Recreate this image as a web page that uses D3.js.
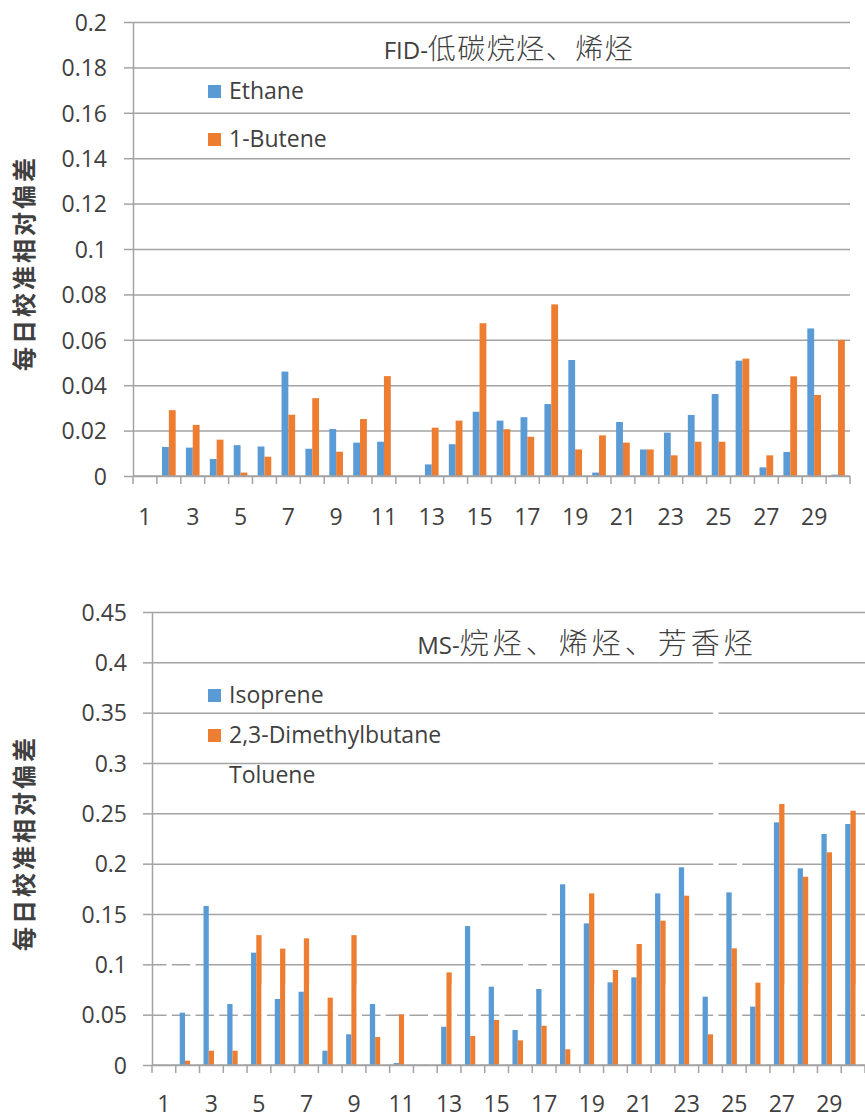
<!DOCTYPE html>
<html>
<head>
<meta charset="utf-8">
<script src="https://cdn.jsdelivr.net/npm/d3@7"></script>
<style>
  body { margin: 0; background: #fff; }
  svg text { font-family: "Open Sans", "Noto Sans CJK SC", sans-serif; fill: #404040; }
</style>
</head>
<body>
<div id="graph"></div>
<script>
// days on the x axis, only odd ones get a label
var days = [1, 2, 3, 4, 5, 6, 7, 8, 9, 10, 11, 12, 13, 14, 15, 16, 17, 18, 19, 20, 21, 22, 23, 24, 25, 26, 27, 28, 29, 30];
var dayLabels = [1, 3, 5, 7, 9, 11, 13, 15, 17, 19, 21, 23, 25, 27, 29];

// chart 1 : FID
var yTicksFid = [0, 0.02, 0.04, 0.06, 0.08, 0.1, 0.12, 0.14, 0.16, 0.18, 0.2];
var ethane = [0, 0.0128, 0.0125, 0.0075, 0.0136, 0.013, 0.046, 0.012, 0.0207, 0.0147, 0.0151, 0, 0.0051, 0.014, 0.0283,
              0.0244, 0.0259, 0.0317, 0.0511, 0.0015, 0.0238, 0.0117, 0.0191, 0.0269, 0.0361, 0.0508, 0.0038, 0.0106, 0.065, 0.0006];
var butene = [0, 0.029, 0.0225, 0.016, 0.0015, 0.0085, 0.027, 0.0343, 0.0107, 0.0251, 0.044, 0, 0.0213, 0.0244, 0.0673,
              0.0206, 0.0173, 0.0756, 0.0117, 0.0179, 0.0147, 0.0117, 0.0091, 0.0151, 0.0151, 0.0517, 0.0091, 0.0439, 0.0357, 0.0599];

// chart 2 : MS
var yTicksMs = [0, 0.05, 0.1, 0.15, 0.2, 0.25, 0.3, 0.35, 0.4, 0.45];
var isoprene = [0, 0.052, 0.158, 0.0606, 0.1116, 0.0656, 0.0728, 0.0142, 0.0305, 0.0606, 0.002, 0, 0.038, 0.138, 0.0778,
                0.0348, 0.0755, 0.1795, 0.1407, 0.0821, 0.0871, 0.1705, 0.1964, 0.0679, 0.1715, 0.058, 0.241, 0.1954, 0.2295, 0.2394];
var dimethylbutane = [0, 0.0043, 0.0142, 0.0142, 0.129, 0.1156, 0.1258, 0.0669, 0.129, 0.0278, 0.0503, 0, 0.092, 0.0288, 0.0447,
                      0.0245, 0.039, 0.0156, 0.1705, 0.0944, 0.1202, 0.1434, 0.1682, 0.0305, 0.1159, 0.0818, 0.2593, 0.187, 0.2113, 0.2526];
// toluene is drawn in white (only shows as gaps in the gridlines)
var toluene = [0.12, 0.11, 0.08, 0.08, 0.08, 0.08, 0.08, 0.08, 0.08, 0.08, 0.08, 0.08, 0.08, 0.12, 0.08,
               0.12, 0.17, 0.08, 0.08, 0.08, 0.08, 0.08, 0.17, 0.42, 0.22, 0.17, 0.08, 0.08, 0.08, 0.08];

var blue = '#5b9bd5', orange = '#ed7d31', gridColor = '#a3a3a3';
var fmt = function(d) { return String(+d.toFixed(2)); };

var svg = d3.select('#graph').append('svg')
  .attr('width', 865)
  .attr('height', 1119);

function drawChart(opt) {
  var g = svg.append('g');

  var x0 = d3.scaleBand().domain(days).range([opt.left, opt.right]).padding(0);
  var x1 = d3.scaleBand().domain(opt.series.map(function(s) { return s.name; }))
    .range([0, x0.bandwidth()]).paddingInner(0).paddingOuter(0.75);
  var y = d3.scaleLinear().domain([0, opt.yMax]).range([opt.bottom, opt.top]);

  // gridlines
  g.append('g')
    .attr('transform', 'translate(' + opt.left + ',0)')
    .call(d3.axisLeft(y).tickValues(opt.yTicks).tickSize(-(opt.right - opt.left)).tickFormat(''))
    .call(function(a) { a.select('.domain').remove(); })
    .selectAll('line').attr('stroke', gridColor).attr('stroke-width', 1.5);

  // y axis, short ticks + labels
  var ya = g.append('g')
    .attr('transform', 'translate(' + opt.left + ',0)')
    .call(d3.axisLeft(y).tickValues(opt.yTicks).tickSize(9).tickSizeOuter(0).tickPadding(opt.labelPad).tickFormat(fmt));
  ya.select('.domain').attr('stroke', gridColor).attr('stroke-width', 1.5);
  ya.selectAll('line').attr('stroke', gridColor).attr('stroke-width', 1.5);
  ya.selectAll('text').style('font-size', '23px').attr('fill', '#404040').attr('dy', '0.36em');

  // bars
  opt.series.forEach(function(s) {
    g.append('g').selectAll('rect')
      .data(s.values)
      .enter().append('rect')
      .attr('x', function(d, i) { return x0(days[i]) + x1(s.name); })
      .attr('width', x1.bandwidth())
      .attr('y', function(d) { return y(d); })
      .attr('height', function(d) { return y(0) - y(d); })
      .attr('fill', s.color);
  });

  // x axis line, boundary ticks
  g.append('line')
    .attr('x1', opt.left).attr('x2', opt.right)
    .attr('y1', y(0)).attr('y2', y(0))
    .attr('stroke', gridColor).attr('stroke-width', 1.5);
  g.append('g').selectAll('line')
    .data(days.concat([null]))
    .enter().append('line')
    .attr('x1', function(d, i) { return opt.left + i * x0.step(); })
    .attr('x2', function(d, i) { return opt.left + i * x0.step(); })
    .attr('y1', y(0)).attr('y2', y(0) + 8)
    .attr('stroke', gridColor).attr('stroke-width', 1.5);

  var xa = g.append('g')
    .attr('transform', 'translate(0,' + y(0) + ')')
    .call(d3.axisBottom(x0).tickValues(dayLabels).tickSize(0).tickPadding(opt.xPad));
  xa.select('.domain').remove();
  xa.selectAll('text').style('font-size', '23px').attr('fill', '#404040');

  // title : latin part smaller than the CJK part
  var t = g.append('text')
    .attr('x', opt.titleX).attr('y', opt.titleY)
    .attr('text-anchor', 'middle');
  t.append('tspan').style('font-size', '24px').text(opt.title[0]);
  t.append('tspan').style('font-size', opt.titleSize + 'px')
    .style('font-family', '"Noto Sans CJK SC"').style('font-weight', 300)
    .style('letter-spacing', opt.titleSpacing + 'px')
    .text(opt.title[1]);

  // legend
  var lg = g.append('g');
  opt.series.forEach(function(s, i) {
    var ly = opt.legendY + i * opt.legendStep;
    lg.append('rect')
      .attr('x', 208).attr('y', ly - 14)
      .attr('width', 13).attr('height', 13)
      .attr('fill', s.color);
    lg.append('text')
      .attr('x', 229).attr('y', ly)
      .style('font-size', '23px')
      .text(s.name);
  });

  // y title
  g.append('text')
    .attr('transform', 'translate(' + 33 + ',' + opt.yTitleY + ') rotate(-90)')
    .attr('text-anchor', 'middle')
    .style('font-family', '"Noto Sans CJK SC"')
    .style('font-weight', 'bold')
    .style('font-size', '24px')
    .style('letter-spacing', '3px')
    .text('每日校准相对偏差');
}

drawChart({
  left: 133, right: 850, top: 22, bottom: 476, yMax: 0.2, yTicks: yTicksFid,
  labelPad: 17, xPad: 33,
  series: [{name: 'Ethane', values: ethane, color: blue},
           {name: '1-Butene', values: butene, color: orange}],
  title: ['FID-', '低碳烷烃、烯烃'], titleX: 509, titleY: 59, titleSize: 28, titleSpacing: 1.5,
  legendY: 99, legendStep: 48, yTitleY: 263
});

drawChart({
  left: 152, right: 865, top: 612, bottom: 1065, yMax: 0.45, yTicks: yTicksMs,
  labelPad: 16, xPad: 31,
  series: [{name: 'Isoprene', values: isoprene, color: blue},
           {name: '2,3-Dimethylbutane', values: dimethylbutane, color: orange},
           {name: 'Toluene', values: toluene, color: '#ffffff'}],
  title: ['MS-', '烷烃、烯烃、芳香烃'], titleX: 587, titleY: 654, titleSize: 29, titleSpacing: 4,
  legendY: 703, legendStep: 40, yTitleY: 843
});
</script>
</body>
</html>
